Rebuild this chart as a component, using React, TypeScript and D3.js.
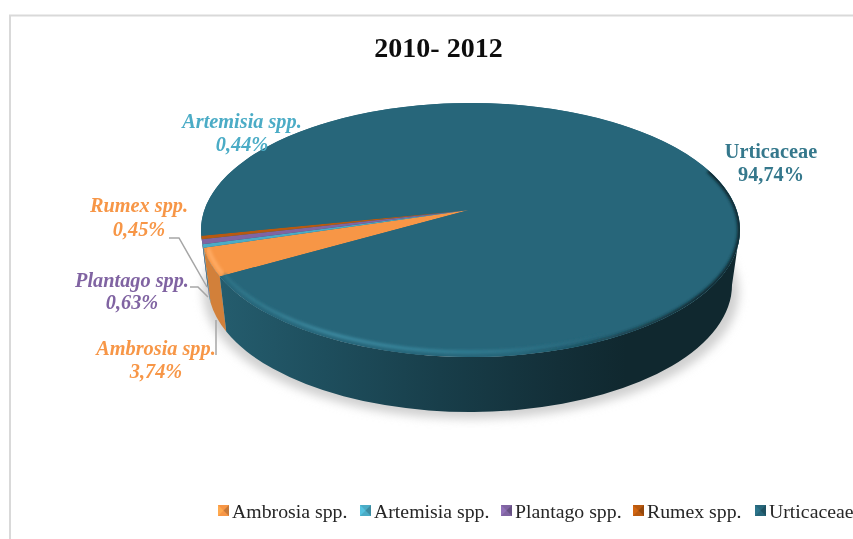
import * as d3 from "d3"

const categories = ["Ambrosia spp.", "Artemisia spp.", "Plantago spp.", "Rumex spp.", "Urticaceae"]
const values = [3.74, 0.44, 0.63, 0.45, 94.74]
const valueLabels = ["3,74%", "0,44%", "0,63%", "0,45%", "94,74%"]
const colors = ["#f79646", "#4bacc6", "#8064a2", "#b9590f", "#27667a"]
const labelColors = ["#f79646", "#4bacc6", "#8064a2", "#f79646", "#35788c"]
const wallColors = ["#d2803a", "#3c8da3", "#664f82", "#8f450b", "url(#urtWall)"]
const legendX = [218, 360, 501, 633, 755]

const FONT = "'Liberation Serif', 'Times New Roman', serif"
const W = 853
const H = 539

const toRad = Math.PI / 180
const startDeg = 248.5

const top = { cx: 470.5, cy: 230, rx: 269.5, ry: 127 }
const bottom = { cx: 470, cy: 285, rx: 262, ry: 127 }
const apex = [469, 210]

type Ell = { cx: number; cy: number; rx: number; ry: number }

// angle is clockwise from 12 o'clock, like d3.pie
const pt = (e: Ell, a: number) => [e.cx + e.rx * Math.sin(a), e.cy - e.ry * Math.cos(a)]

const arcTo = (e: Ell, a0: number, a1: number) => {
  const [x, y] = pt(e, a1)
  const large = Math.abs(a1 - a0) > Math.PI ? 1 : 0
  const sweep = a1 > a0 ? 1 : 0
  return `A${e.rx},${e.ry} 0 ${large} ${sweep} ${x},${y}`
}

const pie = d3
  .pie<number>()
  .sort(null)
  .startAngle(startDeg * toRad)
  .endAngle((startDeg + 360) * toRad)
const slices = pie(values)

const wedge = (a0: number, a1: number) => {
  const p = pt(top, a0)
  return `M${apex[0]},${apex[1]}L${p[0]},${p[1]}${arcTo(top, a0, a1)}Z`
}

// side wall of a slice, only the part facing the viewer (90..270 deg)
const wall = (a0: number, a1: number) => {
  let out = ""
  for (const off of [0, 360]) {
    const lo = Math.max(a0, (90 + off) * toRad)
    const hi = Math.min(a1, (270 + off) * toRad)
    if (hi <= lo) continue
    const p = pt(top, lo)
    const q = pt(bottom, hi)
    out += `M${p[0]},${p[1]}${arcTo(top, lo, hi)}L${q[0]},${q[1]}${arcTo(bottom, hi, lo)}Z`
  }
  return out
}

const inset = (d: number): Ell => ({ cx: top.cx, cy: top.cy, rx: top.rx - d, ry: top.ry - d })
const rimPath = (d: number, a0: number, a1: number) => {
  const e = inset(d)
  const p = pt(e, a0)
  return `M${p[0]},${p[1]}${arcTo(e, a0, a1)}`
}

const LABELS = [
  { i: 0, x: 156, y: 355, y2: 378 },
  { i: 1, x: 242, y: 128, y2: 151 },
  { i: 2, x: 132, y: 287, y2: 309 },
  { i: 3, x: 139, y: 212, y2: 236 },
  { i: 4, x: 771, y: 158, y2: 181 },
]

const LEADERS = [
  [[216, 320], [216, 355]],
  [[190, 287], [198, 287], [208, 297]],
  [[169, 238], [179, 238], [207, 287]],
]

function Marker({ x, y, color }: { x: number; y: number; color: string }) {
  const s = 11
  const c = d3.color(color)!
  const mid = [x + s / 2, y + s / 2]
  return (
    <g>
      <rect x={x} y={y} width={s} height={s} fill={color} />
      <path d={`M${x},${y}L${mid[0]},${mid[1]}L${x},${y + s}Z`} fill={c.brighter(0.35).formatHex()} />
      <path d={`M${x + s},${y}L${mid[0]},${mid[1]}L${x + s},${y + s}Z`} fill={c.darker(0.6).formatHex()} />
    </g>
  )
}

export default function App() {
  const line = d3.line()
  return (
    <svg width={W} height={H} style={{ position: "absolute", left: 0, top: 0, background: "#fff" }}>
      <defs>
        <linearGradient id="urtWall" gradientUnits="userSpaceOnUse" x1={222} x2={740} y1={0} y2={0}>
          <stop offset="0" stopColor="#245c6d" />
          <stop offset="0.2" stopColor="#1e4e5d" />
          <stop offset="0.42" stopColor="#183e4a" />
          <stop offset="0.65" stopColor="#132f38" />
          <stop offset="0.78" stopColor="#10282f" />
          <stop offset="1" stopColor="#10282f" />
        </linearGradient>
        <linearGradient id="rimLight" gradientUnits="userSpaceOnUse" x1={222} x2={600} y1={0} y2={0}>
          <stop offset="0" stopColor="#2d7386" />
          <stop offset="0.3" stopColor="#3f8ea5" />
          <stop offset="0.65" stopColor="#327f95" />
          <stop offset="1" stopColor="#27667a" />
        </linearGradient>
        <linearGradient id="rimDark" gradientUnits="userSpaceOnUse" x1={520} x2={700} y1={0} y2={0}>
          <stop offset="0" stopColor="#10282f" stopOpacity={0} />
          <stop offset="1" stopColor="#10282f" />
        </linearGradient>
        <filter id="blur6" x="-10%" y="-10%" width="120%" height="120%">
          <feGaussianBlur stdDeviation="5" />
        </filter>
        <filter id="blur1" x="-5%" y="-5%" width="110%" height="110%">
          <feGaussianBlur stdDeviation="1.8" />
        </filter>
        <filter id="soft" x="-5%" y="-5%" width="110%" height="110%">
          <feGaussianBlur stdDeviation="0.35" />
        </filter>
        <clipPath id="topClip">
          <ellipse cx={top.cx} cy={top.cy} rx={top.rx} ry={top.ry} />
        </clipPath>
      </defs>

      <path d={`M10,${H}V15.5H${W}`} fill="none" stroke="#d9d9d9" strokeWidth={2} />

      <text x={438.5} y={57} textAnchor="middle" fontFamily={FONT} fontWeight="bold" fontSize={28} fill="#0d0d0d" filter="url(#soft)">
        2010- 2012
      </text>

      {/* shadow */}
      <ellipse cx={bottom.cx + 1} cy={bottom.cy + 7} rx={bottom.rx + 6} ry={bottom.ry} fill="#d0d0d0" filter="url(#blur6)" />

      {/* walls */}
      {slices.map((s, i) => (
        <path key={i} d={wall(s.startAngle, s.endAngle)} fill={wallColors[i]} />
      ))}

      {/* top face */}
      <ellipse cx={top.cx} cy={top.cy} rx={top.rx} ry={top.ry} fill={colors[4]} />
      {slices.map((s, i) => (
        <path key={i} d={wedge(s.startAngle, s.endAngle)} fill={colors[i]} />
      ))}

      {/* bevel */}
      <g clipPath="url(#topClip)">
        <path
          d={rimPath(5, 150 * toRad, slices[4].endAngle - 2 * Math.PI)}
          fill="none"
          stroke="url(#rimLight)"
          strokeWidth={3}
          filter="url(#blur1)"
        />
        <path
          d={rimPath(0, 62 * toRad, 180 * toRad)}
          fill="none"
          stroke="url(#rimDark)"
          strokeWidth={5}
          filter="url(#blur1)"
        />
        <path
          d={rimPath(4, slices[0].startAngle + 0.01, slices[0].endAngle - 0.01)}
          fill="none"
          stroke="#ffab63"
          strokeWidth={4}
          filter="url(#blur1)"
        />
      </g>

      {/* leader lines */}
      {LEADERS.map((l, i) => (
        <path key={i} d={line(l as [number, number][]) ?? ""} fill="none" stroke="#a6a6a6" strokeWidth={1.5} />
      ))}

      {/* data labels */}
      {LABELS.map((l) => (
        <g
          key={l.i}
          fontFamily={FONT}
          fontWeight="bold"
          fontStyle={l.i !== 4 ? "italic" : "normal"}
          fontSize={20.3}
          fill={labelColors[l.i]}
          textAnchor="middle"
          filter="url(#soft)"
        >
          <text x={l.x} y={l.y}>
            {categories[l.i]}
          </text>
          <text x={l.x} y={l.y2}>
            {valueLabels[l.i]}
          </text>
        </g>
      ))}

      {/* legend */}
      {categories.map((c, i) => (
        <g key={c}>
          <Marker x={legendX[i]} y={505} color={colors[i]} />
          <text x={legendX[i] + 14} y={517.5} fontFamily={FONT} fontSize={19.8} fill="#262626" filter="url(#soft)">
            {c}
          </text>
        </g>
      ))}
    </svg>
  )
}
